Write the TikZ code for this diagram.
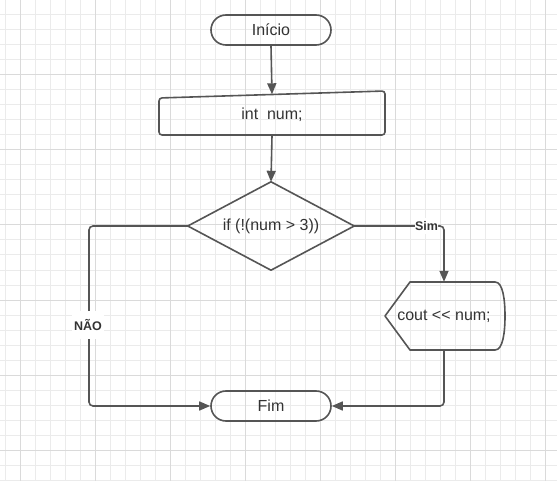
\documentclass[tikz,border=0pt]{standalone}
\usepackage{fontspec}
\setmainfont{Liberation Sans}
\usetikzlibrary{shapes.geometric,arrows.meta,calc}
\definecolor{lc}{HTML}{555555}
\definecolor{tc}{HTML}{333333}
\definecolor{gmin}{HTML}{EBEBEB}
\definecolor{gmaj}{HTML}{DADADA}
\tikzset{
  shapeline/.style={draw=lc, line width=1.6pt, line join=round},
  conn/.style={draw=lc, line width=1.6pt, -{Triangle[length=11pt,width=9pt]}, rounded corners=4pt},
  txt/.style={text=tc, font=\fontsize{16}{19}\selectfont, inner sep=0pt},
  term/.style={shapeline, txt, rounded corners=15pt, minimum width=120pt, minimum height=30pt},
  lbl/.style={fill=white, text=tc, font=\bfseries\fontsize{12.5}{15}\selectfont, inner xsep=0pt}
}
\begin{document}
\begin{tikzpicture}[x=1pt,y=-1pt]
\useasboundingbox (0,0) rectangle (557,481);
\fill[white] (0,0) rectangle (557,481);
% grid
\foreach \x in {5,20,...,557} \draw[gmin, line width=1pt] (\x,0) -- (\x,481);
\foreach \y in {0,15,...,481} \draw[gmin, line width=1pt] (0,\y) -- (557,\y);
\foreach \x in {20,95,...,557} \draw[gmaj, line width=1pt] (\x,0) -- (\x,481);
\foreach \y in {0,75,...,481} \draw[gmaj, line width=1pt] (0,\y) -- (557,\y);

% nodes
\node[term] (start) at (271,30) {Início};
\node[txt, minimum width=226pt, minimum height=41pt] (input) at (272,115) {int\ \ num;};
\draw[shapeline, rounded corners=3pt] (159,98) -- (385,91) -- (385,135) -- (159,135) -- cycle;
\node[txt, minimum width=166pt, minimum height=88pt] (dec) at (271,226) {if (!(num > 3))};
\draw[shapeline] (dec.north) -- (dec.east) -- (dec.south) -- (dec.west) -- cycle;
\node[txt, minimum width=120pt, minimum height=68pt] (out) at (444,316) {cout {<}{<} num;};
\draw[shapeline] (385,316) -- (410,282) -- (495,282)
  .. controls (503,282) and (505,300) .. (505,316)
  .. controls (505,332) and (503,350) .. (495,350) -- (410,350) -- cycle;
\node[term] (fim) at (271,406) {Fim};

% connectors
\draw[conn] (start.south) -- (input.north);
\draw[conn] (input.south) -- (dec.north);
\draw[conn] (dec.east) -| node[lbl, pos=0.403] {Sim} (out.north);
\coordinate (nk) at (89,406);
\draw[conn] (dec.west) -| (nk) -- (fim.west);
\node[lbl, minimum height=28pt, inner xsep=2pt] (nao) at (88,325) {NÃO};
\draw[conn] (out.south) |- (fim.east);
\end{tikzpicture}
\end{document}
